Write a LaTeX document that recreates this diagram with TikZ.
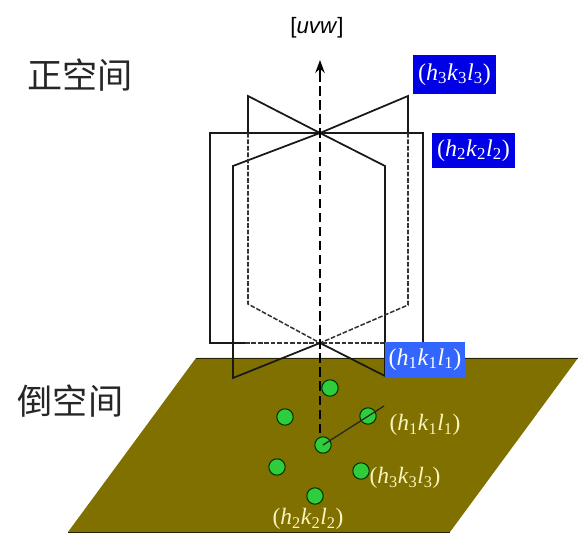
\documentclass[tikz,border=0pt]{standalone}
\usepackage{xcolor}
\usepackage{fontspec}
\setmainfont{Liberation Serif}
\setsansfont{Liberation Sans}
\newfontfamily\cjk{Noto Sans CJK SC}
\usetikzlibrary{arrows.meta}
\definecolor{olivefloor}{RGB}{128,112,0}
\definecolor{dotgreen}{RGB}{45,205,60}
\definecolor{deepblue}{RGB}{0,0,230}
\definecolor{midblue}{RGB}{51,102,255}
\definecolor{paleyellow}{RGB}{250,245,190}
\newcommand{\hkl}[1]{(\textit{h}\textsubscript{#1}\textit{k}\textsubscript{#1}\textit{l}\textsubscript{#1})}

\begin{document}
\begin{tikzpicture}[
  x=0.03cm, y=-0.03cm,
  plane/.style={draw=black!90, line width=1.5pt, line join=miter},
  hidden/.style={draw=black!80, line width=1.3pt, dash pattern=on 4pt off 1.5pt},
  dot/.style={circle, draw=black!80!green, fill=dotgreen, line width=0.9pt, minimum size=14pt, inner sep=0pt},
  tag/.style={text=white, font=\fontsize{20.5}{22}\selectfont, inner sep=0pt, align=center},
  spot/.style={text=paleyellow, font=\fontsize{20}{22}\selectfont, inner sep=0pt},
  title/.style={font=\cjk\fontsize{30}{32}\selectfont, text=black!85, inner sep=0pt},
]

\useasboundingbox (0,0) rectangle (587,543);

\fill[olivefloor] (196,358) -- (578,358) -- (450,532) -- (68,532) -- cycle;
\draw[black!70!olivefloor, line width=0.8pt] (68,532) -- (450,532);
\draw[black!70!olivefloor, line width=0.8pt] (196,358) -- (578,358);

% rectangular plane
\draw[plane] (245,343) -- (210,343) -- (210,133) -- (423,133) -- (423,343) -- (386,343);
\draw[hidden] (245,343) -- (386,343);

% two tilted planes
\coordinate (mid) at (320,133);
\coordinate (low) at (320,343);
\draw[plane] (248,133) -- (248,96) -- (mid) -- (385,166) -- (385,376) -- (low);
\draw[plane] (408,133) -- (408,96) -- (mid) -- (233,166) -- (233,378) -- (low);
\draw[hidden] (248,133) -- (248,304) -- (low);
\draw[hidden] (408,133) -- (408,305) -- (low);

% axis
\node[font=\sffamily\fontsize{19}{21}\selectfont, inner sep=0pt] (uvw) at (317,28) {[\textit{uvw}]};
\coordinate (foot) at (320,433);
\coordinate (tip) at (320,60);
\draw[black, line width=1.7pt, dash pattern=on 8pt off 4pt] (foot) -- (320,74);
\draw[black, line width=1.7pt, -{Stealth[length=11pt,width=8pt]}] (320,74) -- (tip);

% reciprocal spots
\node[dot] (s1) at (330,388) {};
\node[dot] (s2) at (285,417) {};
\node[dot] (s3) at (368,416) {};
\node[dot] (s4) at (323,445) {};
\node[dot] (s5) at (277,467) {};
\node[dot] (s6) at (361,471) {};
\node[dot] (s7) at (315,496) {};
\coordinate (ray) at (384,406);
\draw[black!85, line width=1.1pt] (s4.center) -- (ray);

% labels
\node[tag, fill=deepblue, minimum width=70.6pt, minimum height=33pt] (t3) at (454.5,74.5) {\hkl{3}};
\node[tag, fill=deepblue, minimum width=70.6pt, minimum height=30pt] (t2) at (473.5,150.5) {\hkl{2}};
\node[tag, fill=midblue, minimum width=68pt, minimum height=30pt] (t1) at (425,359.5) {\hkl{1}};

\node[spot] (p1) at (425,425) {\hkl{1}};
\node[spot] (p3) at (405,478) {\hkl{3}};
\node[spot] (p2) at (308,519) {\hkl{2}};

\node[title] (real) at (80,75) {正空间};
\node[title] (recip) at (70.5,401) {倒空间};

\end{tikzpicture}
\end{document}
